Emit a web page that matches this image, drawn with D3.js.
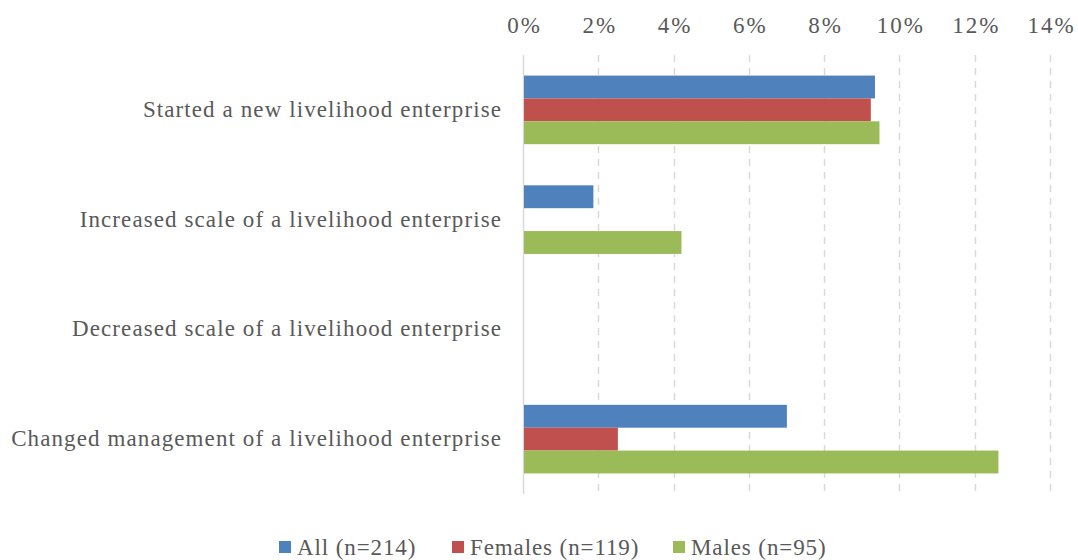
<!DOCTYPE html>
<html><head><meta charset="utf-8">
<script src="https://cdn.jsdelivr.net/npm/d3@7"></script>
<style>body{margin:0;background:#fff}svg{display:block}text{font-family:"Liberation Serif",serif;fill:#595959}</style>
</head><body><svg id="c" width="1078" height="560"></svg>
<script>
const categories = ["Started a new livelihood enterprise","Increased scale of a livelihood enterprise","Decreased scale of a livelihood enterprise","Changed management of a livelihood enterprise"];
const seriesNames = ["All (n=214)","Females (n=119)","Males (n=95)"];
const allValues = [0.0935, 0.0187, 0, 0.0701];
const femaleValues = [0.0924, 0, 0, 0.0252];
const maleValues = [0.0947, 0.0421, 0, 0.1263];
const tickValues = [0,0.02,0.04,0.06,0.08,0.10,0.12,0.14];
const colors = ["#4F81BD","#C0504D","#9BBB59"];
const seriesValues = [allValues, femaleValues, maleValues];

const svg = d3.select("#c");
const x = d3.scaleLinear().domain([0,0.14]).range([523,1050]);
const y0 = d3.scaleBand().domain(categories).range([55,494]).padding(0);
const y1 = d3.scaleBand().domain(seriesNames).range([0,y0.bandwidth()]).paddingInner(0).paddingOuter(0.9);

// gridlines
svg.append("g").selectAll("line").data(tickValues).join("line")
  .attr("x1",d=>Math.round(x(d))+0.5).attr("x2",d=>Math.round(x(d))+0.5)
  .attr("y1",55).attr("y2",494)
  .attr("stroke","#D9D9D9").attr("stroke-width",1.5)
  .attr("stroke-dasharray",d=>d===0?null:"7,6");

// top axis
const ax = svg.append("g").attr("transform","translate(0,33)")
  .call(d3.axisTop(x).tickValues(tickValues).tickFormat(d3.format(".0%")).tickSize(0).tickPadding(0));
ax.select(".domain").remove();
ax.selectAll("text").attr("font-size",23).attr("fill","#595959")
  .style("font-family","Liberation Serif").style("letter-spacing","2px").attr("dx",1);

// bars
const g = svg.append("g");
categories.forEach((c,ci)=>{
  seriesNames.forEach((s,si)=>{
    const v = seriesValues[si][ci];
    if (v<=0) return;
    g.append("rect").attr("x",x(0)+1).attr("y",y0(c)+y1(s))
      .attr("width",x(v)-x(0)-1).attr("height",y1.bandwidth())
      .attr("fill",colors[si]);
  });
});

// category labels
svg.append("g").selectAll("text").data(categories).join("text")
  .attr("x",502).attr("y",d=>y0(d)+y0.bandwidth()/2+7)
  .attr("text-anchor","end").attr("font-size",23).style("letter-spacing","1.1px").text(d=>d);

// legend
const legX = [279,452,673];
const leg = svg.append("g");
seriesNames.forEach((s,i)=>{
  leg.append("rect").attr("x",legX[i]).attr("y",541).attr("width",12).attr("height",12).attr("fill",colors[i]);
  leg.append("text").attr("x",legX[i]+18).attr("y",555).attr("font-size",23).style("letter-spacing","0.9px").text(s);
});
</script></body></html>
